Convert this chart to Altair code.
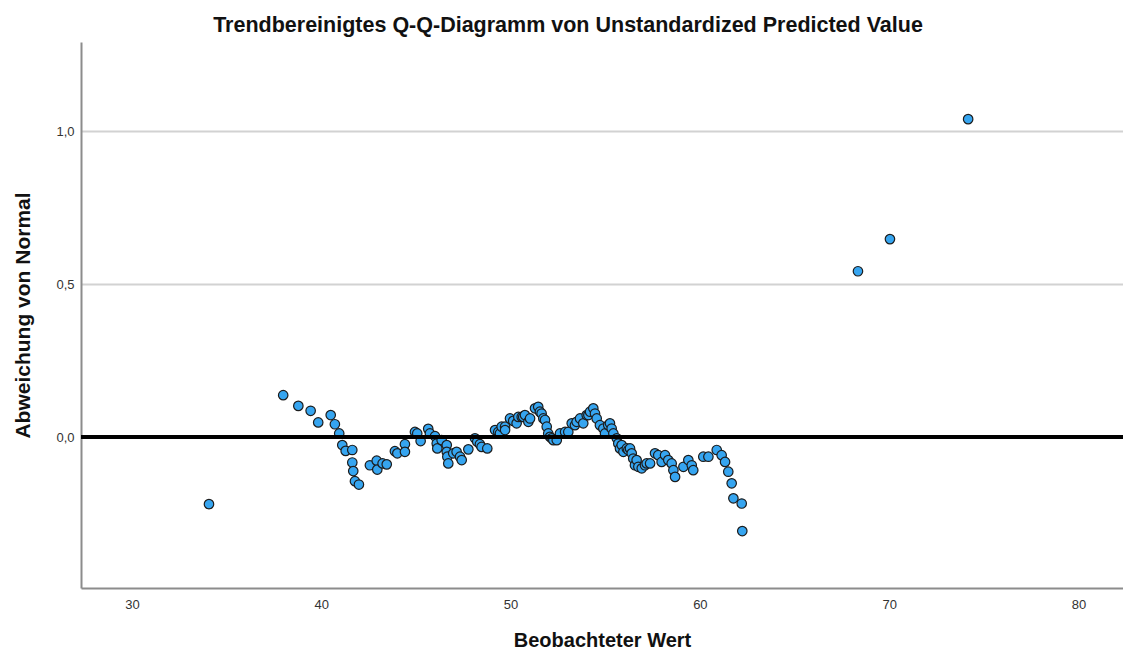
import altair as alt
import pandas as pd

obs = [34.07, 37.99, 38.79, 39.44, 39.84, 40.50, 40.72, 40.95, 41.11, 41.29,
       41.64, 41.64, 41.69, 41.78, 41.99, 42.57, 42.93, 42.96, 43.24, 43.46,
       43.89, 44.02, 44.42, 44.42, 44.95, 45.07, 45.25, 45.65, 45.74, 46.01,
       46.10, 46.13, 46.36, 46.63, 46.63, 46.66, 46.71, 46.97, 47.15, 47.33,
       47.42, 47.77, 48.12, 48.24, 48.38, 48.47, 48.77, 49.18, 49.35, 49.44,
       49.53, 49.71, 49.71, 49.97, 50.14, 50.32, 50.41, 50.59, 50.67, 50.76,
       50.94, 51.03, 51.29, 51.46, 51.55, 51.64, 51.73, 51.82, 51.91, 51.99,
       52.08, 52.17, 52.26, 52.44, 52.61, 52.88, 53.05, 53.23, 53.40, 53.49,
       53.67, 53.84, 54.02, 54.11, 54.20, 54.37, 54.46, 54.55, 54.72, 54.90,
       54.99, 55.16, 55.25, 55.34, 55.43, 55.61, 55.69, 55.78, 55.87, 55.96,
       56.14, 56.22, 56.31, 56.40, 56.48, 56.57, 56.66, 56.75, 56.93, 57.10,
       57.19, 57.37, 57.63, 57.80, 57.98, 58.16, 58.33, 58.51, 58.60, 58.69,
       59.13, 59.39, 59.57, 59.65, 60.18, 60.45, 60.89, 61.15, 61.33, 61.50,
       61.68, 61.77, 62.21, 62.24, 68.35, 70.04, 74.17]
dev = [-0.219, 0.137, 0.102, 0.086, 0.048, 0.072, 0.042, 0.012, -0.026, -0.045,
       -0.042, -0.083, -0.111, -0.144, -0.155, -0.092, -0.077, -0.106, -0.086, -0.089,
       -0.046, -0.053, -0.023, -0.048, 0.017, 0.012, -0.013, 0.027, 0.012, 0.003,
       -0.021, -0.037, -0.010, -0.026, -0.048, -0.064, -0.086, -0.053, -0.048, -0.064,
       -0.075, -0.040, -0.004, -0.015, -0.023, -0.032, -0.037, 0.023, 0.017, 0.012,
       0.034, 0.034, 0.023, 0.061, 0.053, 0.045, 0.066, 0.066, 0.066, 0.072,
       0.050, 0.061, 0.094, 0.099, 0.083, 0.077, 0.061, 0.056, 0.034, 0.012,
       0.001, -0.004, -0.010, -0.010, 0.012, 0.017, 0.017, 0.045, 0.039, 0.050,
       0.061, 0.045, 0.072, 0.072, 0.083, 0.094, 0.077, 0.061, 0.039, 0.028,
       0.012, 0.039, 0.045, 0.028, 0.012, -0.004, -0.021, -0.037, -0.026, -0.048,
       -0.037, -0.042, -0.037, -0.053, -0.070, -0.092, -0.075, -0.097, -0.102, -0.092,
       -0.086, -0.086, -0.053, -0.059, -0.081, -0.059, -0.075, -0.086, -0.108, -0.130,
       -0.097, -0.075, -0.092, -0.108, -0.064, -0.064, -0.042, -0.059, -0.081, -0.113,
       -0.151, -0.200, -0.217, -0.307, 0.542, 0.647, 1.039]

x_ticks = [30, 40, 50, 60, 70, 80]
y_ticks = [0.0, 0.5, 1.0]

df = pd.DataFrame({"x": obs, "y": dev})
zero = pd.DataFrame({"y": [0.0]})

FONT = "Liberation Sans"

xscale = alt.Scale(domain=[27.31, 82.35], nice=False, zero=False)
yscale = alt.Scale(domain=[-0.493, 1.291], nice=False, zero=False)

points = alt.Chart(df).mark_point(
    shape="circle", filled=True, size=90, fill="#36a5f0", stroke="#1c1c1c",
    strokeWidth=1.2, opacity=1
).encode(
    x=alt.X("x:Q", scale=xscale, axis=alt.Axis(
        title="Beobachteter Wert", values=x_ticks, grid=False, ticks=False,
        domainColor="#8c8c8c", domainWidth=2, labelPadding=10,
        labelFont=FONT, labelFontSize=13, labelColor="#333333",
        titleFont=FONT, titleFontSize=20, titleFontWeight="bold",
        titleColor="#111111", titleY=52, titleBaseline="middle")),
    y=alt.Y("y:Q", scale=yscale, axis=alt.Axis(
        title="Abweichung von Normal", values=y_ticks, grid=True,
        gridColor="#d2d2d2", gridWidth=2, ticks=False,
        domainColor="#8c8c8c", domainWidth=2, labelPadding=7,
        labelExpr="replace(format(datum.value, '.1f'), '.', ',')",
        labelFont=FONT, labelFontSize=13, labelColor="#333333",
        titleFont=FONT, titleFontSize=21, titleFontWeight="bold",
        titleColor="#111111", titleX=-58, titleBaseline="middle")),
)

zline = alt.Chart(zero).mark_rule(color="black", strokeWidth=4).encode(
    y=alt.Y("y:Q", scale=yscale)
)

chart = alt.layer(points, zline).properties(
    width=1042, height=546,
    title=alt.TitleParams(
        "Trendbereinigtes Q-Q-Diagramm von Unstandardized Predicted Value",
        font=FONT, fontSize=21.5, fontWeight="bold", color="#111111",
        anchor="middle", dx=-34, offset=6),
    padding={"left": 73, "top": 34, "right": 0, "bottom": 63},
    autosize=alt.AutoSizeParams(type="none"),
).configure_view(stroke=None)

chart.save("out.html", embed_options={"renderer": "svg", "actions": False})
